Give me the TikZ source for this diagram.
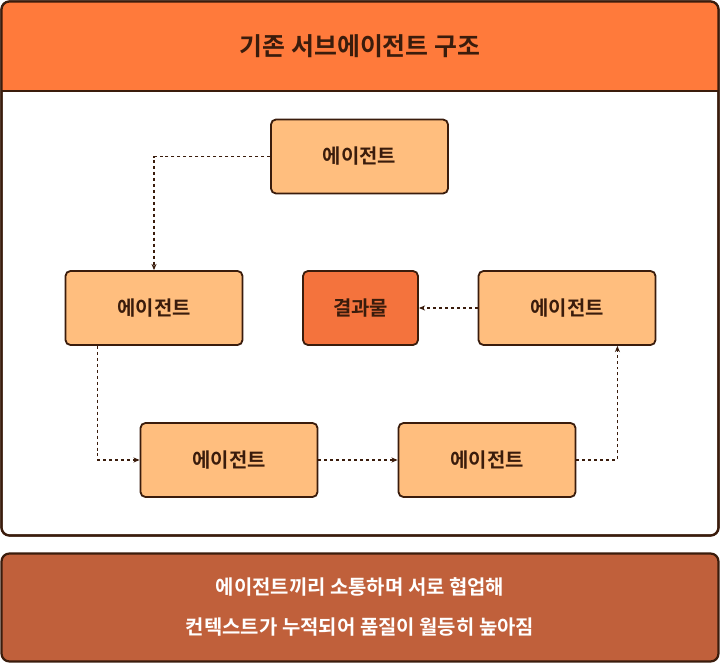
\documentclass[tikz,border=0pt]{standalone}
\usepackage{fontspec}
\setmainfont{Noto Sans CJK KR}[BoldFont={* Bold}]
\usetikzlibrary{arrows.meta,calc}
\definecolor{headorange}{HTML}{FF7A3B}
\definecolor{boxorange}{HTML}{FFBE7E}
\definecolor{resorange}{HTML}{F4733D}
\definecolor{footbrown}{HTML}{C0603B}
\definecolor{inkdark}{HTML}{3A1C0C}
\tikzset{
    agent/.style={draw=inkdark, line width=1.8pt, rounded corners=5pt, fill=boxorange,
        minimum width=177bp, minimum height=74bp, font=\bfseries\fontsize{20}{24}\selectfont, text=inkdark},
    flow/.style={dashed, line width=1.1pt, draw=inkdark, -{Stealth[length=2.2mm, width=1.8mm]}}
}
\begin{document}
\begin{tikzpicture}[x=1bp, y=-1bp]
    \useasboundingbox (0,0) rectangle (720,663);
    % panel and header
    \draw[line width=2.2pt, draw=inkdark, fill=white, rounded corners=8pt] (1.5,1.5) rectangle (718.5,535.5);
    \begin{scope}
        \clip[rounded corners=8pt] (1.5,1.5) rectangle (718.5,535.5);
        \fill[headorange] (1.5,1.5) rectangle (718.5,91);
    \end{scope}
    \draw[line width=2.2pt, draw=inkdark, rounded corners=8pt] (1.5,1.5) rectangle (718.5,535.5);
    \draw[line width=2.2pt, draw=inkdark] (1.5,91) -- (718.5,91);
    \node[font=\bfseries\fontsize{25}{30}\selectfont, text=inkdark] (title) at (360,46) {기존 서브에이전트 구조};
    % agents
    \node[agent] (top) at (359.5,156.5) {에이전트};
    \node[agent] (left) at (154,308) {에이전트};
    \node[agent, minimum width=115bp, fill=resorange] (res) at (360.5,308) {결과물};
    \node[agent] (right) at (567,308) {에이전트};
    \node[agent] (bl) at (229,460) {에이전트};
    \node[agent] (br) at (487,460) {에이전트};
    % connectors
    \draw[flow] (top.west) -| (left.north);
    \draw[flow] ($(left.south west)+(33,0)$) |- (bl.west);
    \draw[flow] (bl.east) -- (br.west);
    \draw[flow] (br.east) -| ($(right.south east)+(-39,0)$);
    \draw[flow] (right.west) -- (res.east);
    % footer
    \draw[line width=2.2pt, draw=inkdark, fill=footbrown, rounded corners=8pt] (1.5,553.5) rectangle (718.5,661.5);
    \node[font=\bfseries\fontsize{20}{40}\selectfont, text=white, align=center] (note) at (360,607)
        {에이전트끼리 소통하며 서로 협업해\\컨텍스트가 누적되어 품질이 월등히 높아짐};
\end{tikzpicture}
\end{document}
